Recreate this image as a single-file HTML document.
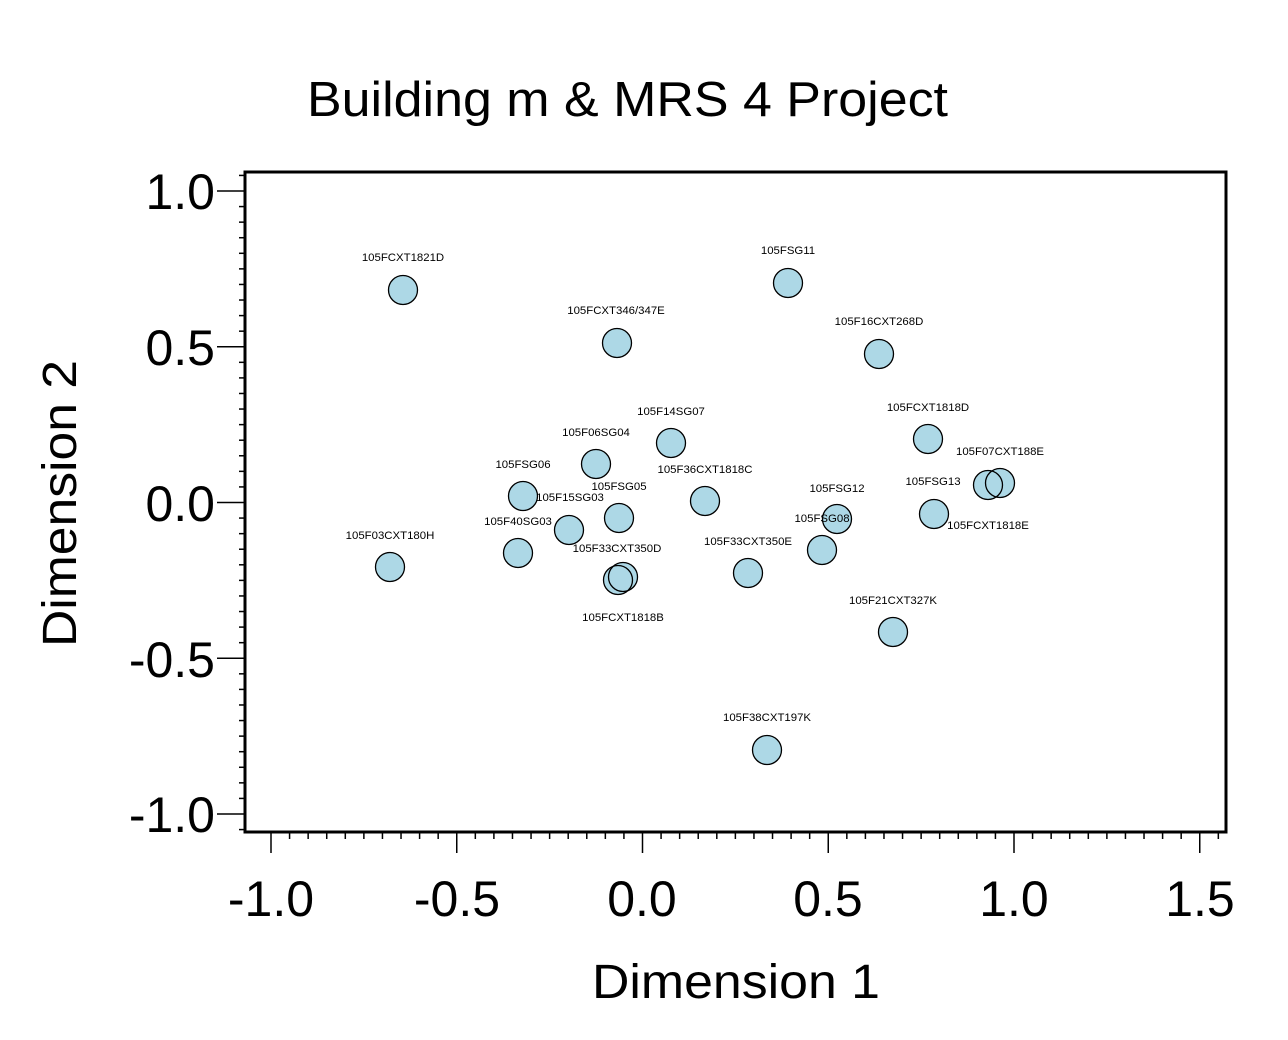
<!DOCTYPE html>
<html><head><style>body{margin:0;background:#fff}svg{display:block}</style></head><body>
<svg width="1288" height="1040" xmlns="http://www.w3.org/2000/svg" font-family="Liberation Sans, sans-serif">
<rect width="1288" height="1040" fill="#fff"/>
<text x="307" y="116" font-size="49" textLength="641" lengthAdjust="spacingAndGlyphs">Building m &amp; MRS 4 Project</text>
<rect x="245" y="172" width="981" height="660" fill="none" stroke="#000" stroke-width="3"/>
<g stroke="#000" stroke-width="1.5" id="ticks"></g>
<g font-size="50" text-anchor="middle">
<text x="271" y="916">-1.0</text><text x="457" y="916">-0.5</text><text x="642" y="916">0.0</text><text x="828" y="916">0.5</text><text x="1014" y="916">1.0</text><text x="1200" y="916">1.5</text>
</g>
<g font-size="50" text-anchor="end">
<text x="215" y="209">1.0</text><text x="215" y="365">0.5</text><text x="215" y="521">0.0</text><text x="215" y="677">-0.5</text><text x="215" y="832">-1.0</text>
</g>
<text x="592" y="998" font-size="48" textLength="288" lengthAdjust="spacingAndGlyphs">Dimension 1</text>
<text transform="translate(76,647) rotate(-90)" font-size="48" textLength="287" lengthAdjust="spacingAndGlyphs">Dimension 2</text>
<g id="pts" fill="#add8e6" stroke="#000" stroke-width="1.3"></g>
<g font-size="11" text-anchor="middle" id="lab"></g>
<script>
var ns="http://www.w3.org/2000/svg";
var t=document.getElementById("ticks");
function L(x1,y1,x2,y2){var l=document.createElementNS(ns,"line");l.setAttribute("x1",x1);l.setAttribute("y1",y1);l.setAttribute("x2",x2);l.setAttribute("y2",y2);t.appendChild(l);}
for(var i=0;i<=52;i++){var x=271+i*18.575;if(x>1226)break;var maj=i%10==0;L(x,833,x,maj?853:839);}
for(var i=-4;i<=44;i++){var y=191+i*15.575;if(y<173||y>831)continue;var maj=i%10==0;L(245,y,maj?217:239,y);}
var P=[[403,290],[788,283],[617,343],[879,354],[671,443],[928,439],[596,464],[988,485],[1000,483],[523,496],[705,501],[934,514],[837,519],[619,518],[569,530],[518,553],[390,567],[822,550],[618,580],[623,577],[748,573],[893,632],[767,750]];
var g=document.getElementById("pts");
P.forEach(function(p){var c=document.createElementNS(ns,"circle");c.setAttribute("cx",p[0]);c.setAttribute("cy",p[1]);c.setAttribute("r",14.5);c.setAttribute("stroke","none");g.appendChild(c);});
P.forEach(function(p){var c=document.createElementNS(ns,"circle");c.setAttribute("cx",p[0]);c.setAttribute("cy",p[1]);c.setAttribute("r",14.5);c.setAttribute("fill","none");g.appendChild(c);});
var T=[["105FCXT1821D",403,261],["105FSG11",788,254],["105FCXT346/347E",616,314],["105F16CXT268D",879,325],["105F14SG07",671,415],["105FCXT1818D",928,411],["105F06SG04",596,436],["105F07CXT188E",1000,455],["105FSG06",523,468],["105F36CXT1818C",705,473],["105FSG13",933,485],["105FSG12",837,492],["105FSG05",619,490],["105F15SG03",570,501],["105F40SG03",518,525],["105F03CXT180H",390,539],["105FSG08",822,522],["105FCXT1818E",988,529],["105F33CXT350D",617,552],["105F33CXT350E",748,545],["105FCXT1818B",623,621],["105F21CXT327K",893,604],["105F38CXT197K",767,721]];
var lb=document.getElementById("lab");
T.forEach(function(a){var e=document.createElementNS(ns,"text");e.setAttribute("x",a[1]);e.setAttribute("y",a[2]);e.setAttribute("font-size","11.4");e.textContent=a[0];lb.appendChild(e);});
</script>
</svg>
</body></html>
